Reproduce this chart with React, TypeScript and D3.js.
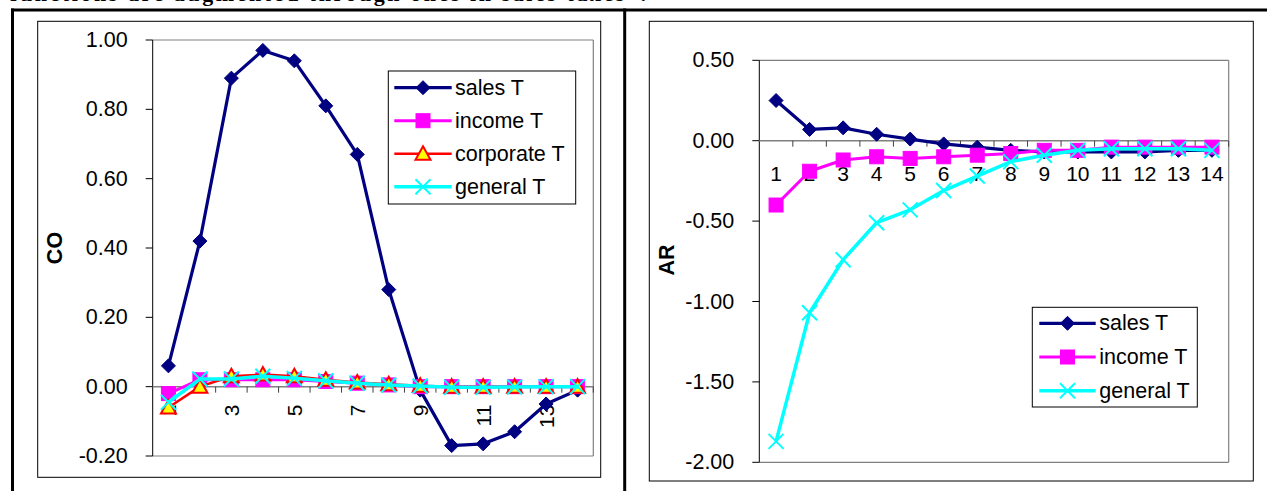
import React from 'react';
import * as d3 from 'd3';

const categories = ['1','2','3','4','5','6','7','8','9','10','11','12','13','14'];
const coOddLabels = ['1','3','5','7','9','11','13'];

const coSales = [0.06, 0.42, 0.89, 0.97, 0.94, 0.81, 0.67, 0.28, -0.01, -0.17, -0.165, -0.13, -0.05, -0.01];
const coIncome = [-0.02, 0.02, 0.02, 0.02, 0.02, 0.015, 0.01, 0.005, 0.0, 0.0, 0.0, 0.0, 0.0, 0.0];
const coCorporate = [-0.06, 0.0, 0.03, 0.035, 0.03, 0.02, 0.012, 0.007, 0.003, 0.0, 0.0, 0.0, 0.0, 0.0];
const coGeneral = [-0.045, 0.022, 0.022, 0.03, 0.024, 0.017, 0.01, 0.005, 0.002, -0.002, -0.002, -0.001, 0.0, 0.0];

const arSales = [0.25, 0.07, 0.08, 0.04, 0.01, -0.02, -0.04, -0.06, -0.07, -0.07, -0.07, -0.07, -0.06, -0.06];
const arIncome = [-0.40, -0.19, -0.12, -0.10, -0.11, -0.10, -0.09, -0.08, -0.06, -0.06, -0.04, -0.04, -0.04, -0.04];
const arGeneral = [-1.87, -1.07, -0.74, -0.51, -0.43, -0.31, -0.22, -0.13, -0.09, -0.06, -0.05, -0.05, -0.05, -0.06];

const coTicks = [-0.2, 0, 0.2, 0.4, 0.6, 0.8, 1.0];
const arTicks = [-2.0, -1.5, -1.0, -0.5, 0, 0.5];

const FONT = 'Arial, "Liberation Sans", sans-serif';
const NAVY = '#000080';
const MAGENTA = '#FF00FF';
const RED = '#FF0000';
const YELLOW = '#FFFF00';
const CYAN = '#00FFFF';

type MarkerType = 'diamond' | 'square' | 'triangle' | 'x';

interface Series {
  name: string;
  values: number[];
  color: string;
  marker: MarkerType;
  width: number;
}

function Marker({ type, x, y }: { type: MarkerType; x: number; y: number }) {
  if (type === 'diamond') {
    const s = 7;
    return <polygon points={`${x},${y - s} ${x + s},${y} ${x},${y + s} ${x - s},${y}`} fill={NAVY} stroke={NAVY} strokeWidth={1} />;
  }
  if (type === 'square') {
    const s = 7;
    return <rect x={x - s} y={y - s} width={2 * s} height={2 * s} fill={MAGENTA} stroke={MAGENTA} strokeWidth={1} />;
  }
  if (type === 'triangle') {
    const s = 7.5;
    return <polygon points={`${x},${y - s} ${x + s},${y + s * 0.8} ${x - s},${y + s * 0.8}`} fill={YELLOW} stroke={RED} strokeWidth={2} />;
  }
  const s = 7.5;
  return (
    <g stroke={CYAN} strokeWidth={2}>
      <line x1={x - s} y1={y - s} x2={x + s} y2={y + s} />
      <line x1={x - s} y1={y + s} x2={x + s} y2={y - s} />
    </g>
  );
}

interface ChartProps {
  outer: { x0: number; y0: number; x1: number; y1: number };
  plot: { x0: number; y0: number; x1: number; y1: number };
  domain: [number, number];
  ticks: number[];
  series: Series[];
  yLabel: string;
  yLabelPos: [number, number];
  rotatedX: boolean;
  legend: { x0: number; y0: number; x1: number; y1: number; firstY: number; step: number; lineX0: number; lineX1: number; textX: number };
}

function Chart(p: ChartProps) {
  const x = d3.scaleBand<string>().domain(categories).range([p.plot.x0, p.plot.x1]).paddingInner(0).paddingOuter(0);
  const y = d3.scaleLinear().domain(p.domain).range([p.plot.y1, p.plot.y0]);
  const cx = (c: string) => (x(c) as number) + x.bandwidth() / 2;
  const y0 = y(0);
  const line = d3.line<number>().x((_, i) => cx(categories[i])).y((v) => y(v));
  const fmt = (v: number) => d3.format('.2f')(v).replace('\u2212', '-');
  const boundaries = categories.map((c) => x(c) as number).concat([p.plot.x1]);

  return (
    <g>
      <rect x={p.outer.x0} y={p.outer.y0} width={p.outer.x1 - p.outer.x0} height={p.outer.y1 - p.outer.y0} fill="#fff" stroke="#000" strokeWidth={1} />
      <line x1={p.plot.x0} y1={p.plot.y0} x2={p.plot.x1} y2={p.plot.y0} stroke="#808080" strokeWidth={1.2} />
      <line x1={p.plot.x1} y1={p.plot.y0} x2={p.plot.x1} y2={p.plot.y1} stroke="#808080" strokeWidth={1.2} />
      <line x1={p.plot.x0} y1={p.plot.y1} x2={p.plot.x1} y2={p.plot.y1} stroke="#808080" strokeWidth={1.2} />
      <line x1={p.plot.x0} y1={p.plot.y0} x2={p.plot.x0} y2={p.plot.y1} stroke="#000" strokeWidth={1} />
      {p.ticks.map((t) => (
        <g key={t}>
          <line x1={p.plot.x0 - 7} x2={p.plot.x0} y1={y(t)} y2={y(t)} stroke="#000" strokeWidth={1} />
          <text x={p.plot.x0 - 25} y={y(t)} textAnchor="end" dominantBaseline="central" fontFamily={FONT} fontSize={21.5} fill="#000">
            {fmt(t)}
          </text>
        </g>
      ))}
      <text transform={`translate(${p.yLabelPos[0]},${p.yLabelPos[1]}) rotate(-90)`} textAnchor="middle" dominantBaseline="central" fontFamily={FONT} fontSize={21.5} fontWeight="bold" fill="#000">
        {p.yLabel}
      </text>
      <line x1={p.plot.x0} x2={p.plot.x1} y1={y0} y2={y0} stroke="#808080" strokeWidth={1.5} />
      {boundaries.slice(1).map((b, i) => (
        <line key={i} x1={b} x2={b} y1={y0} y2={y0 + 6} stroke="#404040" strokeWidth={1} />
      ))}
      {p.rotatedX
        ? coOddLabels.map((c) => (
            <text key={c} transform={`translate(${cx(c)},${y0 + 18}) rotate(-90)`} textAnchor="end" dominantBaseline="central" fontFamily={FONT} fontSize={21} fill="#000">
              {c}
            </text>
          ))
        : categories.map((c) => (
            <text key={c} x={cx(c)} y={y0 + 33} textAnchor="middle" dominantBaseline="central" fontFamily={FONT} fontSize={21} fill="#000">
              {c}
            </text>
          ))}
      {p.series.map((s) => (
        <g key={s.name}>
          <path d={line(s.values) as string} fill="none" stroke={s.color} strokeWidth={s.width} strokeLinejoin="round" />
          {s.values.map((v, i) => (
            <Marker key={i} type={s.marker} x={cx(categories[i])} y={y(v)} />
          ))}
        </g>
      ))}
      <rect x={p.legend.x0} y={p.legend.y0} width={p.legend.x1 - p.legend.x0} height={p.legend.y1 - p.legend.y0} fill="#fff" stroke="#000" strokeWidth={1} />
      {p.series.map((s, i) => {
        const ly = p.legend.firstY + i * p.legend.step;
        const mx = (p.legend.lineX0 + p.legend.lineX1) / 2;
        return (
          <g key={s.name}>
            <line x1={p.legend.lineX0} x2={p.legend.lineX1} y1={ly} y2={ly} stroke={s.color} strokeWidth={s.width} />
            <Marker type={s.marker} x={mx} y={ly} />
            <text x={p.legend.textX} y={ly} dominantBaseline="central" fontFamily={FONT} fontSize={21.5} fill="#000">
              {s.name}
            </text>
          </g>
        );
      })}
    </g>
  );
}

export default function App() {
  const coSeries: Series[] = [
    { name: 'sales T', values: coSales, color: NAVY, marker: 'diamond', width: 3.2 },
    { name: 'income T', values: coIncome, color: MAGENTA, marker: 'square', width: 3 },
    { name: 'corporate T', values: coCorporate, color: RED, marker: 'triangle', width: 2.5 },
    { name: 'general T', values: coGeneral, color: CYAN, marker: 'x', width: 3.5 },
  ];
  const arSeries: Series[] = [
    { name: 'sales T', values: arSales, color: NAVY, marker: 'diamond', width: 3.2 },
    { name: 'income T', values: arIncome, color: MAGENTA, marker: 'square', width: 3 },
    { name: 'general T', values: arGeneral, color: CYAN, marker: 'x', width: 3.5 },
  ];

  return (
    <div style={{ position: 'absolute', left: 0, top: 0 }}>
      <svg width={1267} height={491} style={{ display: 'block' }}>
        <rect x={0} y={0} width={1267} height={491} fill="#fff" />
        <text x={10} y={1} fontFamily='"Times New Roman", "Liberation Serif", serif' fontSize={22} fontWeight="bold" textLength={636} lengthAdjust="spacing" fill="#000">
          functions are augmented through ones in sales taxes”.
        </text>
        <Chart
          outer={{ x0: 37.7, y0: 21.3, x1: 600.7, y1: 477.3 }}
          plot={{ x0: 152.7, y0: 40, x1: 593.3, y1: 456 }}
          domain={[-0.2, 1.0]}
          ticks={coTicks}
          series={coSeries}
          yLabel="CO"
          yLabelPos={[55, 248]}
          rotatedX={true}
          legend={{ x0: 388.3, y0: 71, x1: 575.7, y1: 204, firstY: 87.7, step: 33, lineX0: 394.3, lineX1: 451.7, textX: 455 }}
        />
        <Chart
          outer={{ x0: 649.3, y0: 21.3, x1: 1253.3, y1: 481 }}
          plot={{ x0: 759.3, y0: 60.3, x1: 1228.7, y1: 462.3 }}
          domain={[-2.0, 0.5]}
          ticks={arTicks}
          series={arSeries}
          yLabel="AR"
          yLabelPos={[666.7, 260]}
          rotatedX={false}
          legend={{ x0: 1032.3, y0: 307.3, x1: 1197.3, y1: 407, firstY: 323.3, step: 33.7, lineX0: 1039.3, lineX1: 1095.7, textX: 1099.3 }}
        />
        <line x1={11} x2={1267} y1={10} y2={10} stroke="#000" strokeWidth={3} />
        <line x1={12.5} x2={12.5} y1={8.5} y2={491} stroke="#000" strokeWidth={3} />
        <line x1={624.7} x2={624.7} y1={8.5} y2={491} stroke="#000" strokeWidth={3} />
      </svg>
    </div>
  );
}
